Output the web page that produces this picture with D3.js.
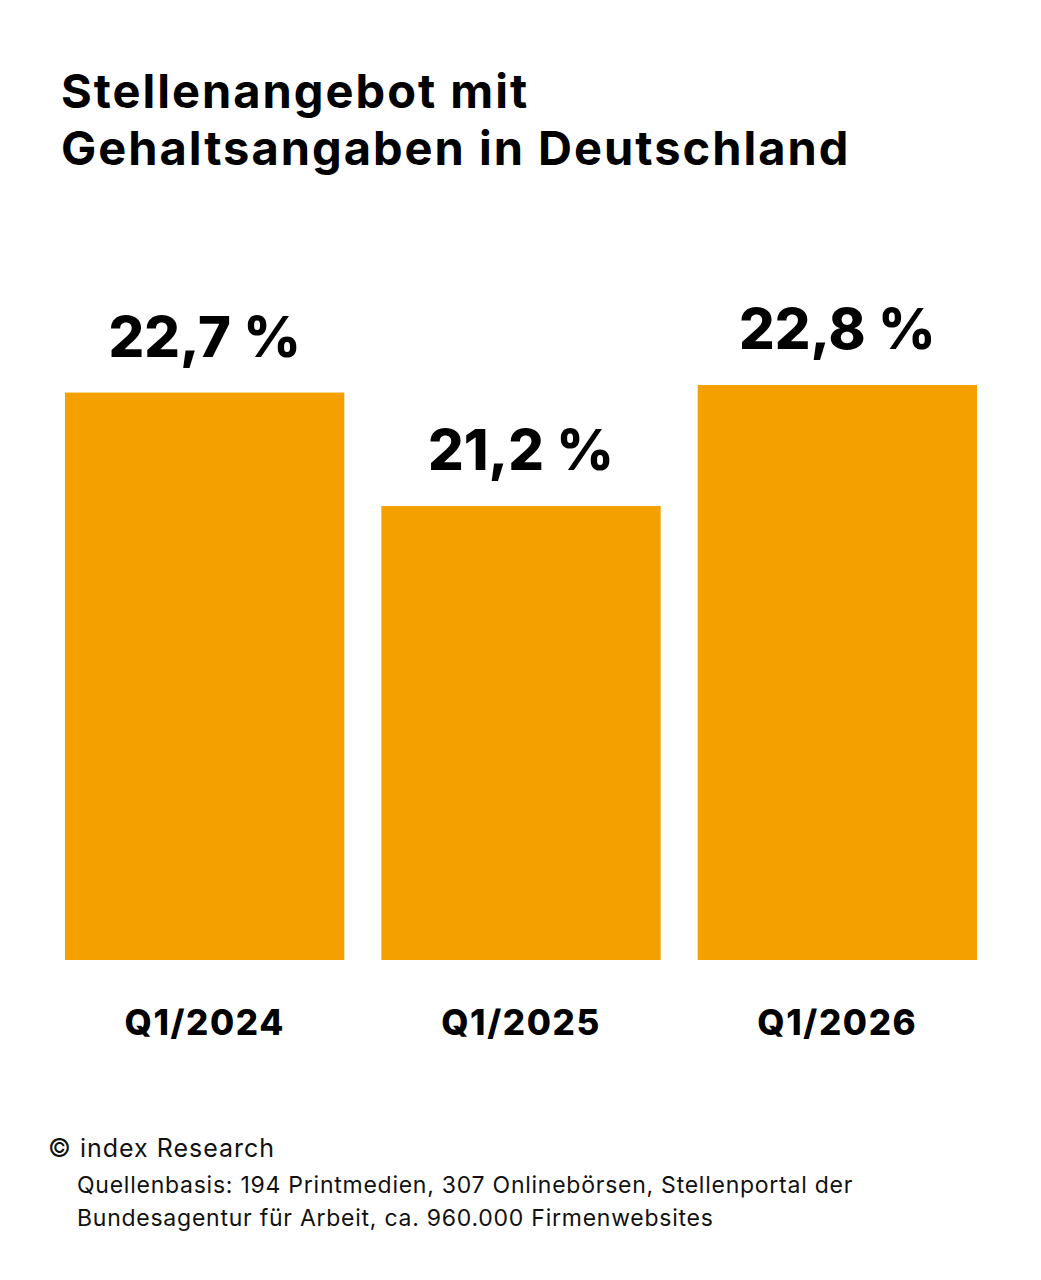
<!DOCTYPE html>
<html>
<head>
<meta charset="utf-8">
<script src="https://cdn.jsdelivr.net/npm/d3@7"></script>
<style>
  body { margin: 0; background: #fff; }
  svg { display: block; }
</style>
</head>
<body>
<div id="chart-area"></div>
<script>
const BASE_WIDTH = 1041;
const BASE_HEIGHT = 1280;
const BAR_COLOR = '#f4a100';
const FONT = "Inter, 'Noto Sans', sans-serif";

const categories = ["Q1/2024", "Q1/2025", "Q1/2026"];
const values = [22.7, 21.2, 22.8];
const valueLabels = ["22,7 %", "21,2 %", "22,8 %"];
const titleLines = ["Stellenangebot mit", "Gehaltsangaben in Deutschland"];
const footerLines = [
    "Quellenbasis: 194 Printmedien, 307 Onlinebörsen, Stellenportal der",
    "Bundesagentur für Arbeit, ca. 960.000 Firmenwebsites"
];

const svg = d3.select("#chart-area").append("svg")
    .attr("width", BASE_WIDTH)
    .attr("height", BASE_HEIGHT);

svg.selectAll(".title")
    .data(titleLines)
    .enter()
    .append("text")
    .attr("class", "title")
    .attr("x", 61)
    .attr("y", (d, i) => 108 + i * 57)
    .attr("font-family", FONT)
    .attr("font-weight", 700)
    .attr("font-size", 47)
    .attr("letter-spacing", 2)
    .attr("fill", "#000")
    .text(d => d);

const data = categories.map((c, i) => ({ cat: c, value: values[i], label: valueLabels[i] }));

const x = d3.scaleBand()
    .domain(categories)
    .range([65, 977])
    .paddingInner(0.117)
    .paddingOuter(0);

// axis doesn't start at zero in the original
const y = d3.scaleLinear()
    .domain([15.2, 22.8])
    .range([960, 385]);

svg.selectAll(".bar")
    .data(data)
    .enter()
    .append("rect")
    .attr("class", "bar")
    .attr("x", d => x(d.cat))
    .attr("width", x.bandwidth())
    .attr("y", d => y(d.value))
    .attr("height", d => y(15.2) - y(d.value))
    .attr("fill", BAR_COLOR);

svg.selectAll(".val")
    .data(data)
    .enter()
    .append("text")
    .attr("class", "val")
    .attr("x", d => x(d.cat) + x.bandwidth() / 2)
    .attr("y", d => y(d.value) - 36)
    .attr("text-anchor", "middle")
    .attr("font-family", FONT)
    .attr("font-weight", 800)
    .attr("font-size", 56)
    .attr("fill", "#000")
    .text(d => d.label);

svg.selectAll(".cat")
    .data(data)
    .enter()
    .append("text")
    .attr("class", "cat")
    .attr("x", d => x(d.cat) + x.bandwidth() / 2)
    .attr("y", 1035)
    .attr("text-anchor", "middle")
    .attr("font-family", FONT)
    .attr("font-weight", 800)
    .attr("font-size", 35)
    .attr("letter-spacing", 1.6)
    .attr("fill", "#000")
    .text(d => d.cat);

svg.append("text")
    .attr("x", 48)
    .attr("y", 1157)
    .attr("font-family", FONT)
    .attr("font-size", 25)
    .attr("letter-spacing", 1)
    .attr("fill", "#111")
    .text("© index Research");

svg.selectAll(".foot")
    .data(footerLines)
    .enter()
    .append("text")
    .attr("class", "foot")
    .attr("x", 77)
    .attr("y", (d, i) => 1193 + i * 33)
    .attr("font-family", FONT)
    .attr("font-size", 23)
    .attr("letter-spacing", 0.75)
    .attr("fill", "#111")
    .text(d => d);
</script>
</body>
</html>
